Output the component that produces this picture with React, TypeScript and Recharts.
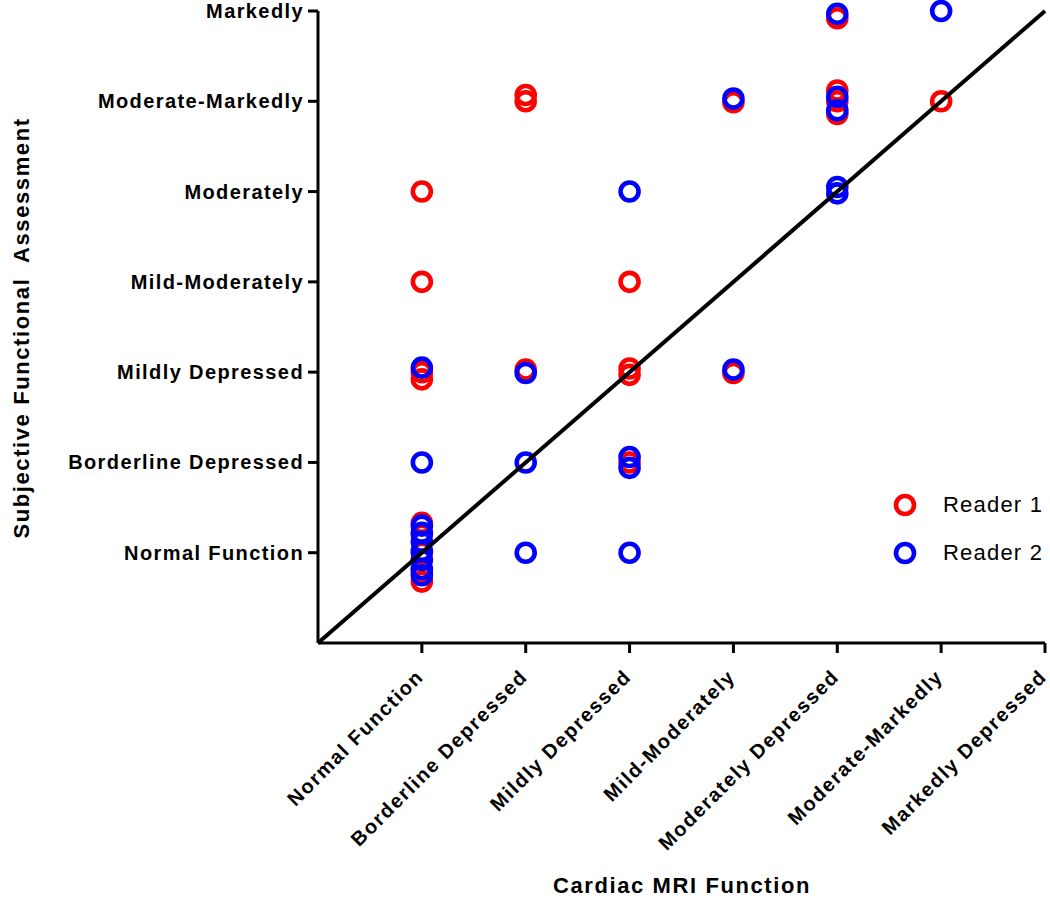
import { ScatterChart, Scatter, XAxis, YAxis } from 'recharts'

const xCategories = [
  'Normal Function',
  'Borderline Depressed',
  'Mildly Depressed',
  'Mild-Moderately',
  'Moderately Depressed',
  'Moderate-Markedly',
  'Markedly Depressed',
]

const yCategories = [
  'Normal Function',
  'Borderline Depressed',
  'Mildly Depressed',
  'Mild-Moderately',
  'Moderately',
  'Moderate-Markedly',
  'Markedly',
]

const tickValues = [1, 2, 3, 4, 5, 6, 7]

// scores are whole categories; small offsets reproduce the stacked/jittered rings
const reader1 = [
  { x: 1, y: 5 }, { x: 1, y: 4 }, { x: 1, y: 3.0 }, { x: 1, y: 2.92 },
  { x: 1, y: 1.33 }, { x: 1, y: 1.2 }, { x: 1, y: 1.0 }, { x: 1, y: 0.8 }, { x: 1, y: 0.68 },
  { x: 2, y: 6.07 }, { x: 2, y: 6.0 }, { x: 2, y: 3.03 },
  { x: 3, y: 4 }, { x: 3, y: 3.04 }, { x: 3, y: 2.97 }, { x: 3, y: 2.0 },
  { x: 4, y: 5.99 }, { x: 4, y: 2.99 },
  { x: 5, y: 6.92 }, { x: 5, y: 6.12 }, { x: 5, y: 6.0 }, { x: 5, y: 5.86 },
  { x: 6, y: 6 },
]

const reader2 = [
  { x: 1, y: 3.05 }, { x: 1, y: 2 },
  { x: 1, y: 1.3 }, { x: 1, y: 1.22 }, { x: 1, y: 1.12 }, { x: 1, y: 1.02 },
  { x: 1, y: 0.92 }, { x: 1, y: 0.82 }, { x: 1, y: 0.75 },
  { x: 2, y: 2.99 }, { x: 2, y: 2 }, { x: 2, y: 1 },
  { x: 3, y: 5 }, { x: 3, y: 2.06 }, { x: 3, y: 1.94 }, { x: 3, y: 1 },
  { x: 4, y: 6.03 }, { x: 4, y: 3.03 },
  { x: 5, y: 6.97 }, { x: 5, y: 6.05 }, { x: 5, y: 5.9 }, { x: 5, y: 5.05 }, { x: 5, y: 4.98 },
  { x: 6, y: 7 },
]

const identity = [
  { x: 0, y: 0 },
  { x: 7, y: 7 },
]

const legendItems = [
  { name: 'Reader 1', color: '#ff0000' },
  { name: 'Reader 2', color: '#0000ff' },
]

const FONT = 'Arial, "Liberation Sans", sans-serif'
const RED = '#ff0000'
const BLUE = '#0000ff'

const ring = (color: string) => (props: any) => (
  <circle cx={props.cx} cy={props.cy} r={9} fill="none" stroke={color} strokeWidth={4.6} />
)

function XTick({ x, payload }: any) {
  return (
    <text
      transform={`translate(${x + 3},678) rotate(-45)`}
      textAnchor="end"
      fontFamily={FONT}
      fontWeight="bold"
      fontSize={20}
      letterSpacing={1.6}
      fill="#000"
    >
      {xCategories[payload.value - 1]}
    </text>
  )
}

function YTick({ y, payload }: any) {
  return (
    <text
      x={304}
      y={y}
      dy={7}
      textAnchor="end"
      fontFamily={FONT}
      fontWeight="bold"
      fontSize={20}
      letterSpacing={1.4}
      fill="#000"
    >
      {yCategories[payload.value - 1]}
    </text>
  )
}

export default function App() {
  return (
    <div style={{ position: 'absolute', left: 0, top: 0, width: 1050, height: 900, background: '#fff' }}>
      <ScatterChart width={1050} height={900} margin={{ top: 11, right: 5, bottom: 0, left: 0 }}>
        <XAxis
          type="number"
          dataKey="x"
          domain={[0, 7]}
          ticks={tickValues}
          height={257}
          axisLine={{ stroke: '#000', strokeWidth: 3 }}
          tickLine={{ stroke: '#000', strokeWidth: 3 }}
          tickSize={10}
          tick={<XTick />}
          interval={0}
        />
        <YAxis
          type="number"
          dataKey="y"
          domain={[0, 7]}
          ticks={tickValues}
          width={318}
          axisLine={{ stroke: '#000', strokeWidth: 3 }}
          tickLine={{ stroke: '#000', strokeWidth: 3 }}
          tickSize={10}
          tick={<YTick />}
          interval={0}
        />
        <Scatter name="Reader 1" data={reader1} shape={ring(RED)} isAnimationActive={false} />
        <Scatter name="Reader 2" data={reader2} shape={ring(BLUE)} isAnimationActive={false} />
        <Scatter
          name="identity"
          data={identity}
          line={{ stroke: '#000', strokeWidth: 4 }}
          shape={() => null}
          legendType="none"
          isAnimationActive={false}
        />
      </ScatterChart>
      <div style={{ position: 'absolute', left: 885, top: 481 }}>
        {legendItems.map((r) => (
          <div key={r.name} style={{ display: 'flex', alignItems: 'center', height: 48 }}>
            <svg width={40} height={30}>
              <circle cx={20} cy={15} r={9} fill="none" stroke={r.color} strokeWidth={4.6} />
            </svg>
            <span style={{ fontFamily: FONT, fontSize: 22, letterSpacing: 1.2, marginLeft: 18, color: '#000' }}>
              {r.name}
            </span>
          </div>
        ))}
      </div>
      <div
        style={{
          position: 'absolute',
          left: 0,
          width: 1050,
          top: 873,
          paddingLeft: 314,
          boxSizing: 'border-box',
          textAlign: 'center',
          fontFamily: FONT,
          fontWeight: 'bold',
          fontSize: 22,
          letterSpacing: 1.6,
          lineHeight: '26px',
        }}
      >
        Cardiac MRI Function
      </div>
      <div
        style={{
          position: 'absolute',
          left: 22,
          top: 328,
          transform: 'translate(-50%, -50%) rotate(-90deg)',
          whiteSpace: 'pre',
          fontFamily: FONT,
          fontWeight: 'bold',
          fontSize: 22,
          letterSpacing: 1.6,
          lineHeight: '26px',
        }}
      >
        {'Subjective Functional  Assessment'}
      </div>
    </div>
  )
}
